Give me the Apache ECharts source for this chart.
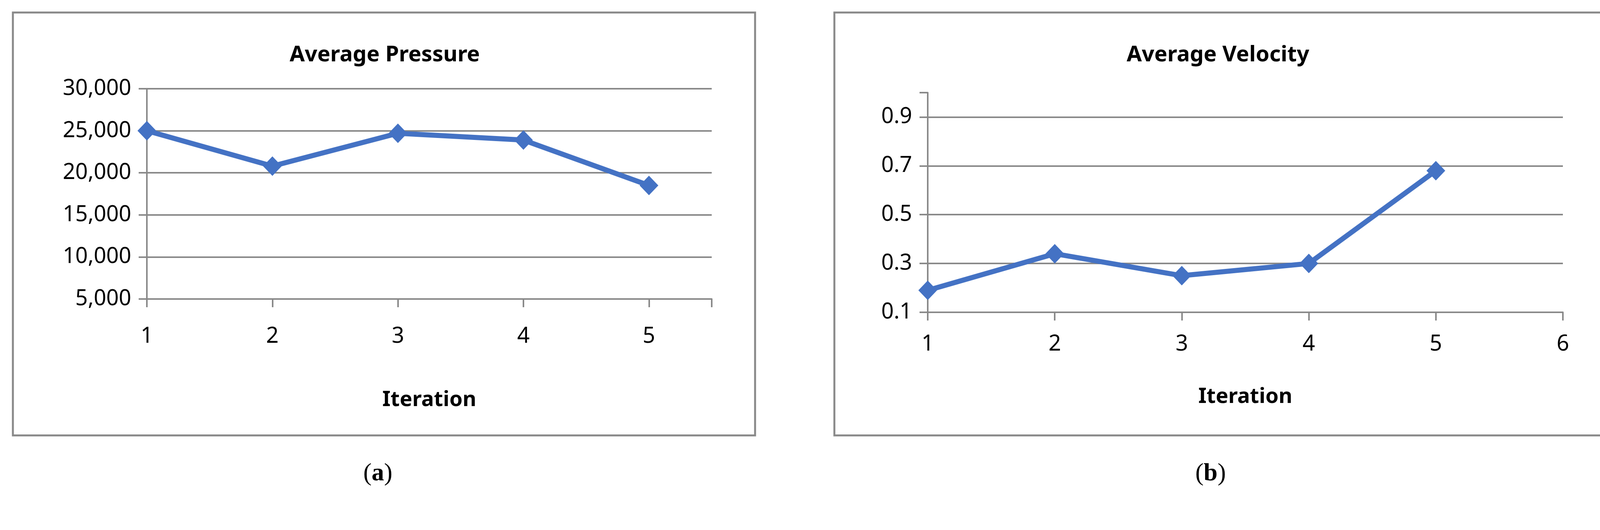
<!DOCTYPE html>
<html><head><meta charset="utf-8">
<script src="https://cdn.jsdelivr.net/npm/echarts@6/dist/echarts.min.js"></script>
<style>html,body{margin:0;padding:0;background:#fff}#c{width:4130px;height:1356px}</style>
</head><body><div id="c"></div>
<script>
const iterations = [1, 2, 3, 4, 5];
const pressure = [25000, 20800, 24700, 23900, 18500];
const velocity = [0.19, 0.34, 0.25, 0.30, 0.68];
const titles = ['Average Pressure', 'Average Velocity'];
const captions = ['a', 'b'];

const F = '"Noto Sans", sans-serif';
const grey = '#898989';
const blue = '#4472C4';
const chart = echarts.init(document.getElementById('c'));

function xAxis(idx, max, gap, margin) {
  return {
    type: 'value', gridIndex: idx, min: 1, max: max, interval: 1,
    name: 'Iteration', nameLocation: 'middle', nameGap: gap,
    nameTextStyle: {fontFamily: F, fontSize: 54, fontWeight: 'bold', color: '#000'},
    axisLine: {show: true, onZero: false, lineStyle: {color: grey, width: 4}},
    axisTick: {show: true, length: 21, lineStyle: {color: grey, width: 4}},
    axisLabel: {fontFamily: F, fontSize: 56, color: '#000', margin: margin,
      formatter: v => Number.isInteger(v) ? String(v) : ''},
    splitLine: {show: false}
  };
}
function yAxis(idx, min, max, interval, fmt) {
  return {
    type: 'value', gridIndex: idx, min: min, max: max, interval: interval,
    axisLine: {show: true, lineStyle: {color: grey, width: 4}},
    axisTick: {show: true, length: 21, lineStyle: {color: grey, width: 4}},
    axisLabel: {fontFamily: F, fontSize: 56, color: '#000', margin: 40, formatter: fmt},
    splitLine: {show: true, showMaxLine: idx === 0, lineStyle: {color: grey, width: 4}}
  };
}
const mk = (vals) => iterations.map((x, i) => [x, vals[i]]);
const lineSeries = (idx, vals) => ({
  type: 'line', xAxisIndex: idx, yAxisIndex: idx, data: mk(vals),
  symbol: 'diamond', symbolSize: [48, 50],
  lineStyle: {color: blue, width: 13}, itemStyle: {color: blue}, z: 5
});

chart.setOption({
  animation: false,
  title: [
    {text: titles[0], left: 980, top: 108, textAlign: 'center',
     textStyle: {fontFamily: F, fontSize: 56, fontWeight: 'bold', color: '#000'}},
    {text: titles[1], left: 3113, top: 108, textAlign: 'center',
     textStyle: {fontFamily: F, fontSize: 56, fontWeight: 'bold', color: '#000'}}
  ],
  grid: [
    {left: 376, width: 1446, top: 227, height: 538},
    {left: 2375, width: 1626, top: 237, height: 562}
  ],
  xAxis: [xAxis(0, 5.5, 232, 68), xAxis(1, 6, 190, 54)],
  yAxis: [
    yAxis(0, 5000, 30000, 5000, v => v.toLocaleString('en-US')),
    yAxis(1, 0.1, 1.0, 0.2, v => (Math.abs(v - 1) < 1e-9 ? '' : v.toFixed(1)))
  ],
  series: [lineSeries(0, pressure), lineSeries(1, velocity)],
  graphic: [
    {type: 'rect', shape: {x: 33, y: 32, width: 1900, height: 1082}, style: {fill: 'none', stroke: grey, lineWidth: 5}, z: -1},
    {type: 'rect', shape: {x: 2136, y: 32, width: 1981, height: 1082}, style: {fill: 'none', stroke: grey, lineWidth: 5}, z: -1},
    {type: 'text', left: 930, top: 1180, style: {text: '({b|' + captions[0] + '})', font: '64px "Liberation Serif", serif', fill: '#000',
      rich: {b: {fontFamily: '"Liberation Serif", serif', fontSize: 64, fontWeight: 'bold'}}}},
    {type: 'text', left: 3060, top: 1180, style: {text: '({b|' + captions[1] + '})', font: '64px "Liberation Serif", serif', fill: '#000',
      rich: {b: {fontFamily: '"Liberation Serif", serif', fontSize: 64, fontWeight: 'bold'}}}}
  ]
});
</script></body></html>
